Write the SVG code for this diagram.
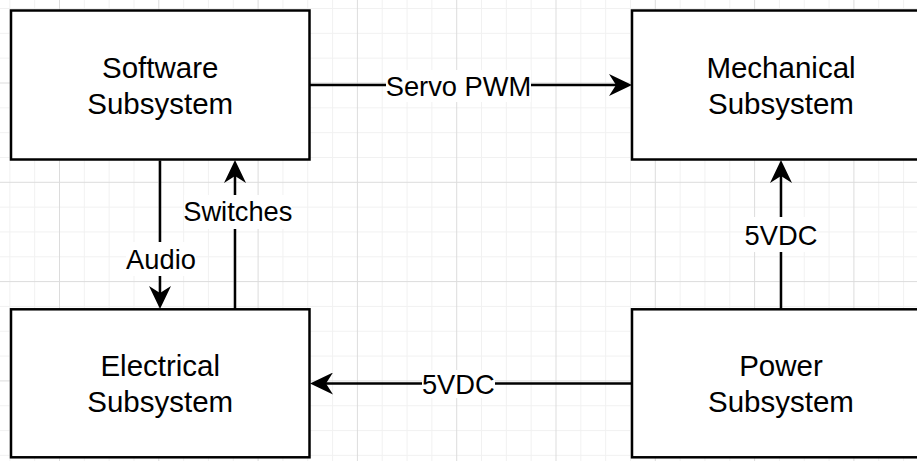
<svg xmlns="http://www.w3.org/2000/svg" width="917" height="461" viewBox="0 0 917 461">
  <style>
    .box { fill: #ffffff; stroke: #000000; stroke-width: 2.5; }
    .node-text { font-family: "Liberation Sans", Arial, sans-serif; font-size: 29.5px; fill: #000000; text-anchor: middle; }
    .edge { fill: none; stroke: #000000; stroke-width: 2.5; marker-end: url(#arrow); }
    .label-bg { fill: #ffffff; }
    .label { font-family: "Liberation Sans", Arial, sans-serif; font-size: 27.3px; fill: #000000; text-anchor: middle; }
    .minor { fill: #f1f1f1; }
    .major { fill: #dcdcdc; }
  </style>
  <defs>
    <pattern id="grid" width="99.3" height="99.3" patternUnits="userSpaceOnUse" x="59" y="181.8">
      <rect class="minor" x="24.8" y="0" width="1" height="99.3"/>
      <rect class="minor" x="49.6" y="0" width="1" height="99.3"/>
      <rect class="minor" x="74.5" y="0" width="1" height="99.3"/>
      <rect class="minor" x="0" y="24.8" width="99.3" height="1"/>
      <rect class="minor" x="0" y="49.6" width="99.3" height="1"/>
      <rect class="minor" x="0" y="74.5" width="99.3" height="1"/>
      <rect class="major" x="0" y="0" width="1" height="99.3"/>
      <rect class="major" x="0" y="0" width="99.3" height="1"/>
    </pattern>
    <marker id="arrow" viewBox="-7 -11 23 22" refX="0" refY="0" markerWidth="23" markerHeight="22" markerUnits="userSpaceOnUse" orient="auto">
      <path d="M16,0 L-7,-11 L0,0 L-7,11 Z" fill="#000000"/>
    </marker>
  </defs>

  <rect x="0" y="0" width="917" height="461" fill="#ffffff"/>
  <rect x="0" y="0" width="917" height="461" fill="url(#grid)"/>

  <g id="connectors">
    <path class="edge" d="M310,85 H616"/>
    <path class="edge" d="M160,160.5 V293"/>
    <path class="edge" d="M235,309 V176"/>
    <path class="edge" d="M781,309 V176"/>
    <path class="edge" d="M632,383.5 H326"/>

    <rect class="label-bg" x="386" y="70" width="145" height="32"/>
    <text class="label" x="458.5" y="95.5">Servo PWM</text>

    <rect class="label-bg" x="126" y="242" width="70" height="34"/>
    <text class="label" x="161" y="269.3">Audio</text>

    <rect class="label-bg" x="184" y="195" width="108" height="34"/>
    <text class="label" x="237.8" y="221">Switches</text>

    <rect class="label-bg" x="745" y="217" width="72" height="35"/>
    <text class="label" x="781" y="245">5VDC</text>

    <rect class="label-bg" x="422" y="370" width="73" height="28"/>
    <text class="label" x="458.3" y="394.3">5VDC</text>
  </g>

  <g id="software">
    <rect class="box" x="11" y="10.5" width="298.5" height="149"/>
    <text class="node-text" x="160.25" y="77.5">Software</text>
    <text class="node-text" x="160.25" y="113.5">Subsystem</text>
  </g>

  <g id="mechanical">
    <rect class="box" x="632" y="10.5" width="298.5" height="149"/>
    <text class="node-text" x="781" y="77.5">Mechanical</text>
    <text class="node-text" x="781" y="113.5">Subsystem</text>
  </g>

  <g id="electrical">
    <rect class="box" x="11" y="309.3" width="298.5" height="148"/>
    <text class="node-text" x="160.25" y="376">Electrical</text>
    <text class="node-text" x="160.25" y="412">Subsystem</text>
  </g>

  <g id="power">
    <rect class="box" x="632" y="309.3" width="298.5" height="148"/>
    <text class="node-text" x="781" y="376">Power</text>
    <text class="node-text" x="781" y="412">Subsystem</text>
  </g>
</svg>
